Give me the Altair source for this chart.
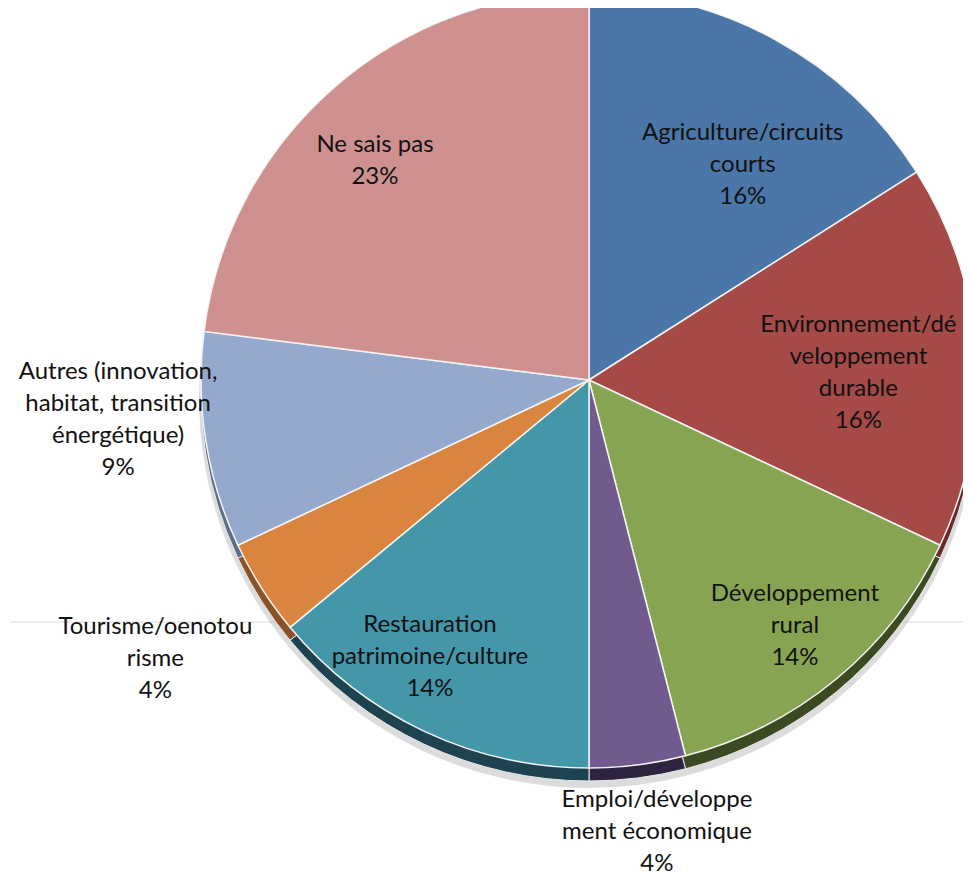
import altair as alt
import math

# ---- data ----
categories = [
    "Agriculture/circuits courts",
    "Environnement/développement durable",
    "Développement rural",
    "Emploi/développement économique",
    "Restauration patrimoine/culture",
    "Tourisme/oenotourisme",
    "Autres (innovation, habitat, transition énergétique)",
    "Ne sais pas",
]
values = [16, 16, 14, 4, 14, 4, 9, 23]
label_lines = [
    ["Agriculture/circuits", "courts"],
    ["Environnement/dé", "veloppement", "durable"],
    ["Développement", "rural"],
    ["Emploi/développe", "ment économique"],
    ["Restauration", "patrimoine/culture"],
    ["Tourisme/oenotou", "risme"],
    ["Autres (innovation,", "habitat, transition", "énergétique)"],
    ["Ne sais pas"],
]

# ---- style ----
top_colors = ["#4A76A8", "#A54A47", "#87A453", "#715B8E", "#4496A9", "#D9853F", "#94A9CD", "#CE9190"]
side_colors = ["#2C4A6E", "#6A2A28", "#3B4A22", "#2E2440", "#1E4350", "#8B5226", "#5E6E8A", "#8A5A5A"]
# label placement (first line) : radius in px and angle tweak in degrees
label_radius = [291, 275, 297, 425, 292, 499, 471, 318]
label_dtheta = [3.1, -8.0, -4.3, -2.0, 7.8, 2.75, 10.0, -0.9]

CX, CY, R = 581, 372, 388
DEPTH = 13

rows = []
for i, (c, v, ll) in enumerate(zip(categories, values, label_lines)):
    rows.append({"idx": i, "cat": c, "value": v, "label": ll + [f"{v}%"]})
data = alt.Data(values=rows)

theta = alt.Theta("value:Q", stack=True)
order = alt.Order("idx:Q")

bg_line = alt.Chart(alt.Data(values=[{"a": 1}])).mark_rule(
    color="#dcdcdc", strokeWidth=1
).encode(x=alt.value(2), x2=alt.value(955), y=alt.value(614))

shadow = alt.Chart(data).mark_arc(outerRadius=R + 2, color="#9a9a9a", opacity=0.35).encode(
    theta=theta, order=order, x=alt.value(CX), y=alt.value(CY + DEPTH + 5)
)

side = alt.Chart(data).mark_arc(outerRadius=R, stroke="#e8e8e8", strokeWidth=1).encode(
    theta=theta, order=order,
    color=alt.Color("cat:N", scale=alt.Scale(domain=categories, range=side_colors), legend=None),
    x=alt.value(CX), y=alt.value(CY + DEPTH),
)

top = alt.Chart(data).mark_arc(outerRadius=R, stroke="#f4f4f4", strokeWidth=1.5).encode(
    theta=theta, order=order,
    color=alt.Color("cat:N", scale=alt.Scale(domain=categories, range=top_colors), legend=None),
    x=alt.value(CX), y=alt.value(CY),
)

r_expr = "[" + ",".join(str(r) for r in label_radius) + "][datum.idx]"
d_expr = "[" + ",".join(str(d) for d in label_dtheta) + "][datum.idx]"

text = alt.Chart(data).transform_joinaggregate(
    total="sum(value)"
).transform_window(
    cum="sum(value)", sort=[alt.SortField("idx")], frame=[None, 0]
).transform_calculate(
    ang=f"(datum.cum - datum.value/2)/datum.total*2*PI + ({d_expr})*PI/180",
    rr=r_expr,
).mark_text(
    font="Lato", fontSize=24, lineHeight=32, color="#111111", align="center", baseline="middle"
).encode(
    theta=alt.Theta("ang:Q", scale=None, stack=False),
    radius=alt.Radius("rr:Q", scale=None),
    text=alt.Text("label:N"),
    x=alt.value(CX), y=alt.value(CY),
)

chart = alt.layer(bg_line, shadow, side, top, text).resolve_scale(
    color="independent"
).properties(
    width=955, height=869, padding=0, autosize="none"
).configure_view(stroke=None)

chart.save("out.html", embed_options={"renderer": "svg", "actions": False})
